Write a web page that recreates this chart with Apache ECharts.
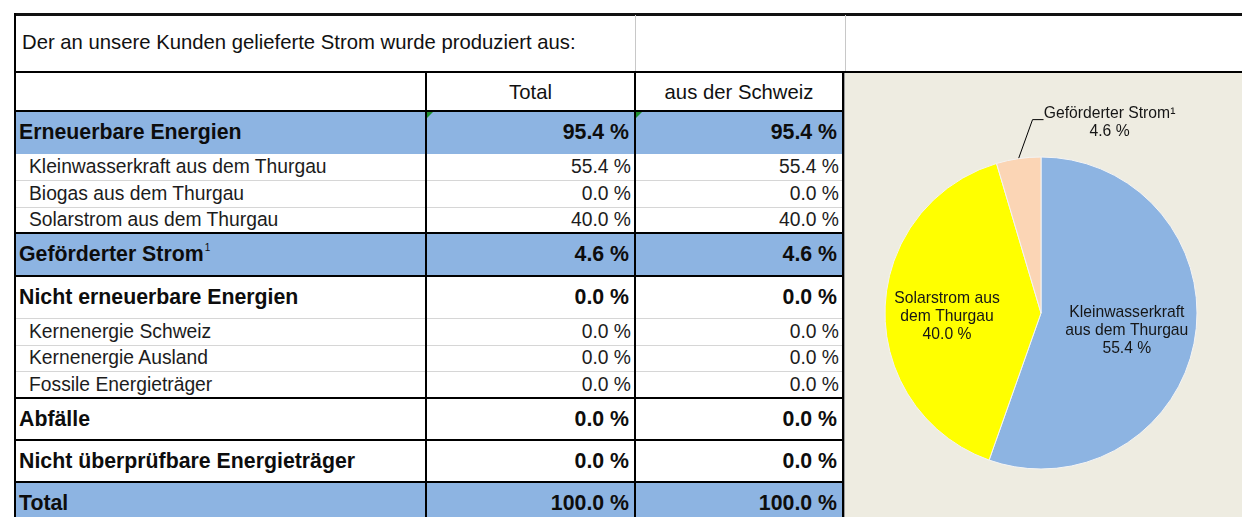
<!DOCTYPE html>
<html><head><meta charset="utf-8">
<script src="https://cdn.jsdelivr.net/npm/echarts@6/dist/echarts.min.js"></script>
<style>
html,body{margin:0;padding:0;width:1242px;height:517px;overflow:hidden;background:#fff;font-family:"Liberation Sans",Arial,sans-serif;color:#151515;}
#wrap{position:absolute;left:0;top:0;width:1242px;height:517px;overflow:hidden;}
.abs{position:absolute;box-sizing:border-box;}
#chart{position:absolute;left:845px;top:74px;width:397px;height:443px;}
</style></head>
<body><div id="wrap"></div><div id="chart"></div>
<script>
// ---------- data ----------
const titleText = 'Der an unsere Kunden gelieferte Strom wurde produziert aus:';
const columnHeaders = ['Total', 'aus der Schweiz'];
const rowLabels = ['Erneuerbare Energien', 'Kleinwasserkraft aus dem Thurgau', 'Biogas aus dem Thurgau',
  'Solarstrom aus dem Thurgau', 'Geförderter Strom', 'Nicht erneuerbare Energien', 'Kernenergie Schweiz',
  'Kernenergie Ausland', 'Fossile Energieträger', 'Abfälle', 'Nicht überprüfbare Energieträger', 'Total'];
const rowLevels = ['group', 'sub', 'sub', 'sub', 'group', 'group', 'sub', 'sub', 'sub', 'group', 'group', 'group'];
const rowFootnotes = ['', '', '', '', '1', '', '', '', '', '', '', ''];
const totalValues = [95.4, 55.4, 0.0, 40.0, 4.6, 0.0, 0.0, 0.0, 0.0, 0.0, 0.0, 100.0];
const swissValues = [95.4, 55.4, 0.0, 40.0, 4.6, 0.0, 0.0, 0.0, 0.0, 0.0, 0.0, 100.0];
const pieNames = ['Kleinwasserkraft aus dem Thurgau', 'Solarstrom aus dem Thurgau', 'Geförderter Strom'];
const pieLabels = ['Kleinwasserkraft\naus dem Thurgau', 'Solarstrom aus\ndem Thurgau', 'Geförderter Strom¹'];
const pieValues = [55.4, 40.0, 4.6];

// ---------- layout / style ----------
const L = {
  x0: 14, x1: 426, x2: 635, x3: 843, right: 1242,
  bodyTop: 111,
  rowHeights: [43, 26, 27, 26, 43, 42, 27, 26, 27, 42, 42, 42],
  blueRows: [0, 4, 11],
  blue: '#8DB4E2',
  greenMarkRows: [0]
};
const pieColors = ['#8DB4E2', '#FFFF00', '#FBD5B5'];

const wrap = document.getElementById('wrap');
function box(x, y, w, h, css) {
  const d = document.createElement('div');
  d.className = 'abs';
  Object.assign(d.style, {left: x + 'px', top: y + 'px', width: w + 'px', height: h + 'px'}, css || {});
  wrap.appendChild(d);
  return d;
}
function txt(x, y, w, h, html, css) {
  const d = box(x, y, w, h, Object.assign({display: 'flex', alignItems: 'center', whiteSpace: 'nowrap'}, css || {}));
  d.innerHTML = html;
  return d;
}
const fmt = v => v.toFixed(1) + ' %';
const BLACK = {background: '#000'};

// backgrounds
let yy = L.bodyTop;
const rowTops = [];
L.rowHeights.forEach((h, i) => {
  rowTops.push(yy);
  if (L.blueRows.includes(i)) box(L.x0, yy, L.x3 - L.x0, h, {background: L.blue});
  yy += h;
});
// chart panel
box(844, 73, 398, 444, {background: '#EEECE1', borderLeft: '1px solid #9c9c9c'});

// row separator lines
rowLabels.forEach((n, i) => {
  const y0 = rowTops[i];
  if (i === 0) return;
  if (rowLevels[i] === 'group') box(L.x0, y0 - 1, L.x3 - L.x0, 2, BLACK);
  else if (!L.blueRows.includes(i - 1)) box(L.x0, y0, L.x3 - L.x0, 1, {background: '#d6d6d6'});
});
// frame lines
box(L.x0, 13, L.right - L.x0, 3, {background: '#111'});
box(L.x0, 13, 2, 504, BLACK);
box(L.x0, 71, L.right - L.x0, 2, BLACK);
box(L.x0, 110, L.x3 - L.x0, 2, BLACK);
box(L.x1 - 1, 72, 2, 445, BLACK);
box(L.x2 - 1, 72, 2, 445, BLACK);
box(L.x3 - 1, 72, 2, 445, BLACK);
box(L.x2, 15, 1, 56, {background: '#c8c8c8'});
box(845, 15, 1, 56, {background: '#c8c8c8'});

// green error marks
L.greenMarkRows.forEach(i => {
  [L.x1 + 1, L.x2 + 1].forEach(x => box(x, rowTops[i] + 1, 0, 0,
    {borderTop: '6px solid #1f8f2f', borderRight: '6px solid transparent'}));
});

// title & headers
txt(22, 16, 600, 52, titleText, {fontSize: '20.3px', color: '#111'});
txt(L.x1, 73, L.x2 - L.x1, 38, columnHeaders[0], {fontSize: '20.3px', justifyContent: 'center', color: '#111'});
txt(L.x2, 73, L.x3 - L.x2, 38, columnHeaders[1], {fontSize: '20.3px', justifyContent: 'center', color: '#111'});

// body text
rowLabels.forEach((name, i) => {
  const y0 = rowTops[i], h = L.rowHeights[i];
  const grp = rowLevels[i] === 'group';
  const fs = grp ? '21.3px' : '19.3px';
  const fw = grp ? 'bold' : 'normal';
  const col = grp ? '#0d0d0d' : '#1c1c1c';
  const sup = rowFootnotes[i] ? '<span style="font-size:10px;font-weight:normal;position:relative;top:-7px;margin-left:1px">' + rowFootnotes[i] + '</span>' : '';
  txt(grp ? L.x0 + 5 : L.x0 + 15, y0, L.x1 - L.x0 - 10, h, name + sup, {fontSize: fs, fontWeight: fw, color: col});
  const pad = grp ? 6 : 4;
  txt(L.x1, y0, L.x2 - L.x1 - pad, h, fmt(totalValues[i]), {fontSize: fs, fontWeight: fw, color: col, justifyContent: 'flex-end'});
  txt(L.x2, y0, L.x3 - L.x2 - pad, h, fmt(swissValues[i]), {fontSize: fs, fontWeight: fw, color: col, justifyContent: 'flex-end'});
});

// ---------- pie ----------
const chart = echarts.init(document.getElementById('chart'), null, {renderer: 'canvas'});
const pieCenter = [196, 239];
const pieRadius = 156;
const pieSum = pieValues.reduce((a, b) => a + b, 0);
function midPoint(idx) {
  let cum = 0;
  for (let k = 0; k < idx; k++) cum += pieValues[k];
  const a = 2 * Math.PI * (cum + pieValues[idx] / 2) / pieSum;
  return [pieCenter[0] + pieRadius * Math.sin(a), pieCenter[1] - pieRadius * Math.cos(a)];
}
const labelStyle = [
  {position: 'inside', offset: [6, 4]},
  {position: 'inside', offset: [-13, 6]},
  {position: 'outside'}
];
chart.setOption({
  animation: false,
  series: [{
    type: 'pie',
    center: pieCenter,
    radius: pieRadius,
    startAngle: 90,
    clockwise: true,
    silent: true,
    itemStyle: {borderColor: '#f3f3f3', borderWidth: 1},
    label: {
      show: true,
      formatter: p => pieLabels[p.dataIndex] + '\n' + fmt(p.value),
      fontFamily: 'Liberation Sans, Arial, sans-serif',
      fontSize: 15.7,
      lineHeight: 18,
      color: '#161616',
      align: 'center'
    },
    labelLine: {show: false},
    labelLayout: function (params) {
      if (params.dataIndex !== 2) return {};
      const p0 = midPoint(2);
      return {
        x: p0[0] + 91, y: p0[1] - 36, align: 'center', verticalAlign: 'middle',
        labelLinePoints: [p0, [p0[0] + 14, p0[1] - 39], [p0[0] + 25, p0[1] - 39]]
      };
    },
    data: pieValues.map((v, i) => ({
      value: v,
      name: pieNames[i],
      itemStyle: {color: pieColors[i]},
      label: labelStyle[i],
      labelLine: i === 2 ? {show: true, length: 30, length2: 10, lineStyle: {color: '#000', width: 1}} : {show: false}
    }))
  }]
});
</script>
</body></html>
